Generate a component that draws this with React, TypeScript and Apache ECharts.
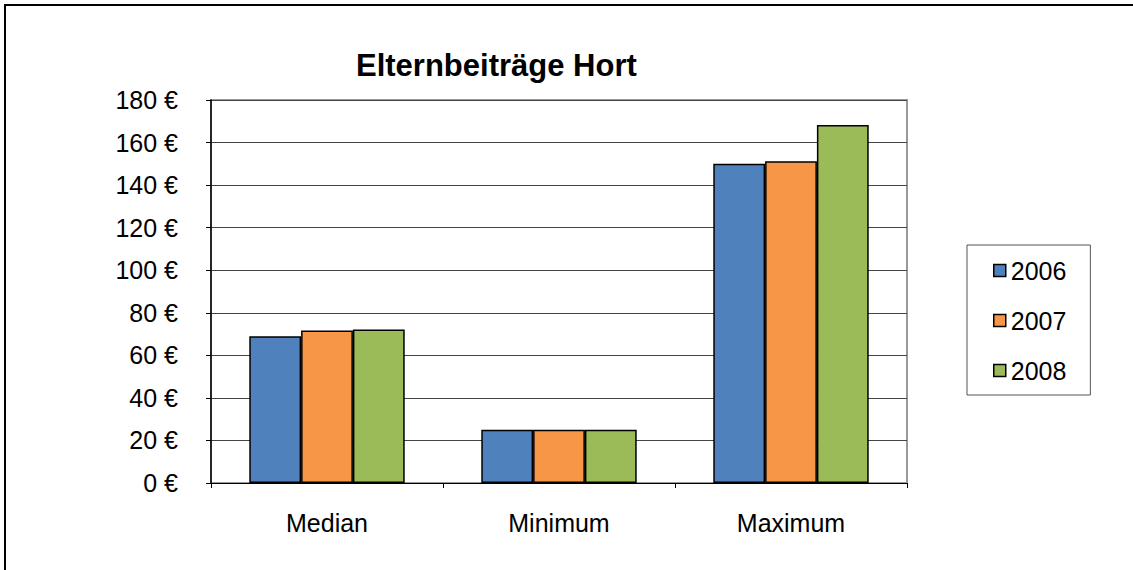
import React, { useEffect, useRef } from "react";
import * as echarts from "echarts";

const categories = ["Median", "Minimum", "Maximum"];
const years = ["2006", "2007", "2008"];
const values2006 = [69, 25, 150];
const values2007 = [71.7, 25, 151.2];
const values2008 = [72.1, 25, 168.2];
const colors = ["#4F81BD", "#F79646", "#9BBB59"];
const yTicks = { min: 0, max: 180, interval: 20 };

const FONT = "Liberation Sans, Arial, sans-serif";

export default function App() {
  const ref = useRef<HTMLDivElement>(null);
  useEffect(() => {
    document.body.style.margin = "0";
    const chart = echarts.init(ref.current!, null, { renderer: "svg" });
    const seriesData = [values2006, values2007, values2008];
    chart.setOption({
      animation: false,
      backgroundColor: "#fff",
      textStyle: { fontFamily: FONT },
      title: {
        text: "Elternbeiträge Hort",
        left: 356,
        top: 50,
        padding: 0,
        textStyle: { fontSize: 31, fontWeight: "bold", color: "#000", fontFamily: FONT },
      },
      graphic: [
        {
          type: "rect",
          shape: { x: 5, y: 5, width: 1300, height: 800 },
          style: { fill: "none", stroke: "#000", lineWidth: 2 },
          silent: true,
          z: 100,
        },
      ],
      grid: {
        left: 211,
        right: 226,
        top: 100,
        bottom: 87,
        show: true,
        borderColor: "#999",
        borderWidth: 2,
      },
      legend: {
        orient: "vertical",
        left: 967,
        top: 245,
        data: years,
        icon: "rect",
        itemWidth: 12,
        itemHeight: 12,
        itemGap: 25,
        padding: [13, 24, 12, 26],
        borderColor: "#555",
        borderWidth: 1,
        itemStyle: { borderColor: "#000", borderWidth: 1.5 },
        textStyle: { fontSize: 25, color: "#000", fontFamily: FONT },
      },
      xAxis: {
        type: "category",
        data: categories,
        axisLine: { lineStyle: { color: "#000", width: 1 } },
        axisTick: { show: true, length: 5, alignWithLabel: false, lineStyle: { color: "#000" } },
        axisLabel: { fontSize: 25, color: "#000", margin: 27, fontFamily: FONT },
      },
      yAxis: {
        type: "value",
        min: yTicks.min,
        max: yTicks.max,
        interval: yTicks.interval,
        axisLine: { show: true, lineStyle: { color: "#000", width: 1.5 } },
        axisTick: { show: true, length: 5, inside: false, lineStyle: { color: "#000" } },
        axisLabel: { fontSize: 25, color: "#000", margin: 33, fontFamily: FONT, formatter: (v: number) => `${v} €` },
        splitLine: { show: true, lineStyle: { color: "#444", width: 1 } },
      },
      series: years.map((y, i) => ({
        name: y,
        type: "bar",
        data: seriesData[i],
        barGap: "0%",
        barCategoryGap: "33%",
        itemStyle: { color: colors[i], borderColor: "#000", borderWidth: 1.5 },
      })),
    });
    return () => chart.dispose();
  }, []);
  return <div ref={ref} style={{ position: "absolute", left: 0, top: 0, width: 1133, height: 570 }} />;
}
